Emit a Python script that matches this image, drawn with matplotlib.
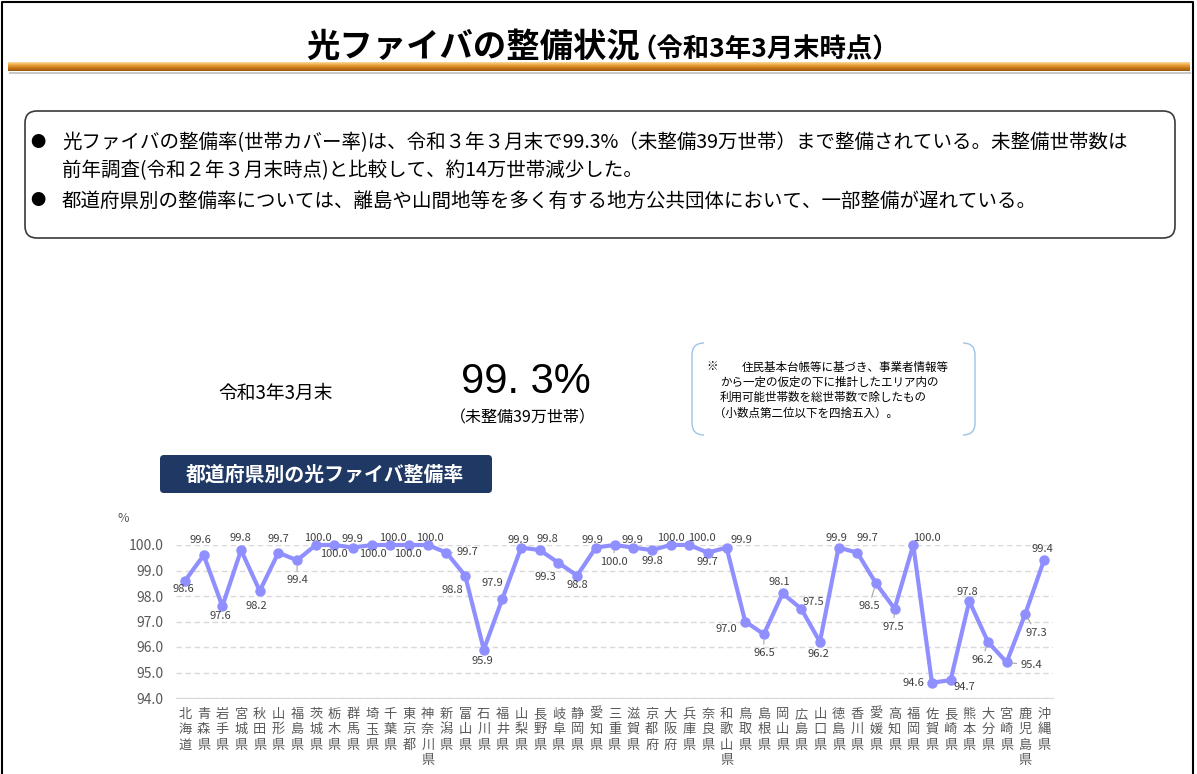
import numpy as np
import matplotlib.pyplot as plt
from matplotlib.patches import FancyBboxPatch, PathPatch
from matplotlib.path import Path
from matplotlib.colors import LinearSegmentedColormap

plt.rcParams['font.family'] = ['Noto Sans CJK JP', 'DejaVu Sans']

# ---- data
prefs = ['北海道', '青森県', '岩手県', '宮城県', '秋田県', '山形県', '福島県',
         '茨城県', '栃木県', '群馬県', '埼玉県', '千葉県', '東京都', '神奈川県',
         '新潟県', '富山県', '石川県', '福井県', '山梨県', '長野県', '岐阜県',
         '静岡県', '愛知県', '三重県', '滋賀県', '京都府', '大阪府', '兵庫県',
         '奈良県', '和歌山県', '鳥取県', '島根県', '岡山県', '広島県', '山口県',
         '徳島県', '香川県', '愛媛県', '高知県', '福岡県', '佐賀県', '長崎県',
         '熊本県', '大分県', '宮崎県', '鹿児島県', '沖縄県']
rates = [98.6, 99.6, 97.6, 99.8, 98.2, 99.7, 99.4,
         100.0, 100.0, 99.9, 100.0, 100.0, 100.0, 100.0,
         99.7, 98.8, 95.9, 97.9, 99.9, 99.8, 99.3,
         98.8, 99.9, 100.0, 99.9, 99.8, 100.0, 100.0,
         99.7, 99.9, 97.0, 96.5, 98.1, 97.5, 96.2,
         99.9, 99.7, 98.5, 97.5, 100.0, 94.6, 94.7,
         97.8, 96.2, 95.4, 97.3, 99.4]
yticks = [94.0, 95.0, 96.0, 97.0, 98.0, 99.0, 100.0]

# label placement (pixels, y downwards) and leader lines
label_dx = [-2, -3, -2, -1, -3, 0, 0, 2, -1, -1, 1, 2, -1, 2, 21, -13, -1, -10, -3, 8,
            -13, 0, -3, -1, -1, 1, 0, 13, 0, 15, -19, 0, -3, 12, -1, -2, 10, -7, -1, 14,
            -18, 14, -2, -6, 25, 11, -2]
label_dy = [8, -15, 10, -12, 15, -14, 20, -7, 9, -9, 9, -7, 9, -7, -1, 14, 11, -16, -8, -11,
            14, 9, -8, 17, -8, 11, -7, -7, 9, -8, 8, 19, -11, -7, 12, -10, -15, 23, 18, -7,
            0, 7, -9, 18, 3, 19, -11]
leader = [6, 14, 23, 31, 37, 38, 43, 44, 45]

W, H = 1197, 774
fig = plt.figure(figsize=(W / 100, H / 100), dpi=100)
bg = fig.add_axes([0, 0, 1, 1])
bg.axis('off')

# outer frame
bg.plot([2, 2, 1193, 1193], [780, 2, 2, 780], color='black', lw=1.5)

# title
bg.text(640, 57, '光ファイバの整備状況', fontsize=24, fontweight='bold', ha='right', va='baseline')
bg.text(630, 57, '（令和3年3月末時点）', fontsize=19, fontweight='bold', ha='left', va='baseline')

# orange bar
grad = np.linspace(0, 1, 20).reshape(-1, 1)
cmap = LinearSegmentedColormap.from_list('bar', ['#fbd89a', '#eba23a', '#c9781a', '#9a5a10'])
bg.imshow(grad, extent=(8, 1190, 71, 62), aspect='auto', cmap=cmap, origin='upper')
bg.plot([10, 1190], [72.5, 72.5], color='#c8c8c8', lw=1.5)

# bullet box
bg.add_patch(FancyBboxPatch((25, 111), 1150, 127, boxstyle='round,pad=0,rounding_size=12',
                            fc='white', ec='#3a3a3a', lw=1.2))
bg.text(38, 143, '●', fontsize=11, va='center', ha='center')
bg.text(38, 201, '●', fontsize=11, va='center', ha='center')
bg.text(62, 143, '光ファイバの整備率(世帯カバー率)は、令和３年３月末で99.3%（未整備39万世帯）まで整備されている。未整備世帯数は',
        fontsize=14, va='center')
bg.text(62, 171, '前年調査(令和２年３月末時点)と比較して、約14万世帯減少した。', fontsize=14, va='center')
bg.text(62, 201, '都道府県別の整備率については、離島や山間地等を多く有する地方公共団体において、一部整備が遅れている。',
        fontsize=14, va='center')

# summary figure
bg.text(218, 393, '令和3年3月末', fontsize=13.5, va='center')
bg.text(526, 382, '99. 3%', fontsize=30, family='Liberation Sans', ha='center', va='center')
bg.text(523, 418, '（未整備39万世帯）', fontsize=11.5, ha='center', va='center')

# note bracket box
c = '#9dc3e6'
verts = [(704, 343), (692, 343), (692, 355), (692, 423), (692, 435), (704, 435)]
codes = [Path.MOVETO, Path.CURVE3, Path.CURVE3, Path.LINETO, Path.CURVE3, Path.CURVE3]
bg.add_patch(PathPatch(Path(verts, codes), fc='none', ec=c, lw=1))
verts = [(963, 343), (975, 343), (975, 355), (975, 423), (975, 435), (963, 435)]
bg.add_patch(PathPatch(Path(verts, codes), fc='none', ec=c, lw=1))
bg.text(706, 367, '※', fontsize=8.3, va='center')
bg.text(742, 367, '住民基本台帳等に基づき、事業者情報等', fontsize=8.3, va='center')
bg.text(720, 382, 'から一定の仮定の下に推計したエリア内の', fontsize=8.3, va='center')
bg.text(720, 397, '利用可能世帯数を総世帯数で除したもの', fontsize=8.3, va='center')
bg.text(714, 413, '（小数点第二位以下を四捨五入）。', fontsize=8.3, va='center')

# navy header
bg.add_patch(FancyBboxPatch((160, 455), 332, 38, boxstyle='round,pad=0,rounding_size=4',
                            fc='#1f3864', ec='none'))
bg.text(186, 474, '都道府県別の光ファイバ整備率', fontsize=14.3, fontweight='bold',
        color='white', va='center')

bg.text(123, 518, '%', fontsize=9, color='#595959', ha='center', va='center')

bg.set_xlim(0, W)
bg.set_ylim(H, 0)

# ---- line chart
ax = fig.add_axes([175.7 / W, 1 - 698 / H, 877.6 / W, 153 / H])
x = np.arange(len(prefs))
ax.plot(x, rates, color='#8f8fff', lw=3, marker='o', ms=6.5, clip_on=False, zorder=3)
for i, v in enumerate(rates):
    ap = None
    if i in leader:
        ap = dict(arrowstyle='-', color='#a6a6a6', lw=0.8, shrinkA=1, shrinkB=4)
    ax.annotate(f'{v:.1f}', (i, v), xytext=(label_dx[i] * 0.72, -label_dy[i] * 0.72),
                textcoords='offset points', ha='center', va='center', fontsize=8,
                color='#404040', arrowprops=ap, zorder=4)

ax.set_xlim(-0.5, len(prefs) - 0.5)
ax.set_ylim(94, 100)
ax.set_yticks(yticks)
ax.set_yticklabels([f'{t:.1f}' for t in yticks])
ax.set_xticks(x)
ax.set_xticklabels(['\n'.join(p) for p in prefs], va='top')
for t in ax.get_xticklabels():
    t.set_linespacing(1.25)
ax.tick_params(axis='both', length=0, labelcolor='#595959')
ax.tick_params(axis='y', pad=9, labelsize=10)
ax.tick_params(axis='x', pad=7, labelsize=9.5)
ax.yaxis.grid(True, ls=(0, (4, 2.5)), color='#d9d9d9', lw=1)
ax.set_axisbelow(True)
for s in ['top', 'right', 'left']:
    ax.spines[s].set_visible(False)
ax.spines['bottom'].set_color('#d9d9d9')
ax.patch.set_alpha(0)

fig.savefig('out.png', dpi=100)
